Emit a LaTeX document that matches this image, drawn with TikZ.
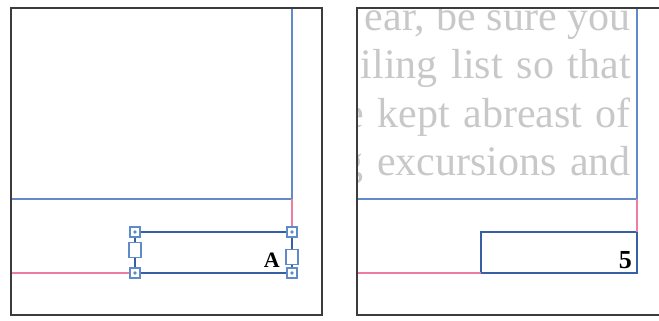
\documentclass[tikz,border=0pt]{standalone}
\usepackage{fontspec}
\newfontfamily\pageserif{Liberation Serif}
\definecolor{framegray}{RGB}{60,60,60}
\definecolor{marginblue}{RGB}{95,140,200}
\definecolor{boxblue}{RGB}{55,95,165}
\definecolor{guidepink}{RGB}{236,125,160}
\definecolor{bodygray}{RGB}{200,200,200}
\tikzset{
  frameline/.style={draw=framegray,line width=2.4pt},
  marginline/.style={draw=marginblue,line width=1.5pt},
  guideline/.style={draw=guidepink,line width=1.5pt},
  pagebox/.style={draw=boxblue,line width=2.2pt,fill=white,inner sep=0pt,outer sep=0pt},
  cornerhandle/.style={draw=marginblue,line width=1.1pt,fill=white,minimum width=10pt,minimum height=10pt,inner sep=0pt},
  midhandle/.style={draw=marginblue,line width=1.3pt,fill=white,minimum width=12pt,minimum height=15pt,inner sep=0pt},
  bodyline/.style={anchor=base east,inner sep=0pt,text=bodygray,font=\pageserif\fontsize{42}{48}\selectfont},
  marker/.style={anchor=base east,inner sep=0pt,text=black,font=\pageserif\bfseries}
}
\begin{document}
\begin{tikzpicture}[x=1pt,y=-1pt]
\useasboundingbox (0,0) rectangle (659,321);
% body text of the right page (clipped)
\begin{scope}
\clip (358,9) rectangle (636,198);
\node[bodyline] (l1) at (631,31) {\makebox[266pt][s]{ear, be sure you}};
\node[bodyline] (l2) at (631,78) {\makebox[270pt][s]{iling list so that}};
\node[bodyline] (l3) at (631,127) {\makebox[285pt][s]{e kept abreast of}};
\node[bodyline] (l4) at (631,175) {\makebox[288pt][s]{g excursions and}};
\end{scope}
% left page guides
\coordinate (lmTop) at (292,8);
\coordinate (lmCorner) at (292,199);
\coordinate (lmLeft) at (12,199);
\coordinate (lgLeft) at (12,273);
\draw[marginline] (lmTop) -- (lmCorner) -- (lmLeft);
% right page guides
\coordinate (rmTop) at (637,8);
\coordinate (rmCorner) at (637,199);
\coordinate (rmLeft) at (358,199);
\coordinate (rgLeft) at (358,273);
\draw[marginline] (rmTop) -- (rmCorner) -- (rmLeft);
% boxes
\node[pagebox,minimum width=157pt,minimum height=41pt] (boxA) at (213.5,252.5) {};
\node[pagebox,minimum width=156pt,minimum height=41pt] (box5) at (559,252.5) {};
% pink guides
\draw[guideline] (lmCorner) -- (lmCorner |- boxA.north);
\draw[guideline] (lgLeft) -- (lgLeft -| boxA.west);
\draw[guideline] (rmCorner) -- (rmCorner |- box5.north);
\draw[guideline] (rgLeft) -- (rgLeft -| box5.west);
% labels
\node[marker,font=\pageserif\bfseries\fontsize{22}{24}\selectfont] (labA) at (280,267) {A};
\node[marker,font=\pageserif\bfseries\fontsize{26}{28}\selectfont] (lab5) at (632,268) {5};
% handles
\foreach \c [count=\i] in {north west,north east,south west,south east}{
  \node[cornerhandle] (h\i) at (boxA.\c) {};
  \fill[marginblue] (h\i.center) circle (1.8pt);
}
\node[midhandle] (hmL) at (135,250) {};
\node[midhandle] (hmR) at (292,257) {};
% page frames
\draw[frameline] (11,8) rectangle (322,315);
\draw[frameline] (662,8) -- (357,8) -- (357,315) -- (662,315);
\end{tikzpicture}
\end{document}
